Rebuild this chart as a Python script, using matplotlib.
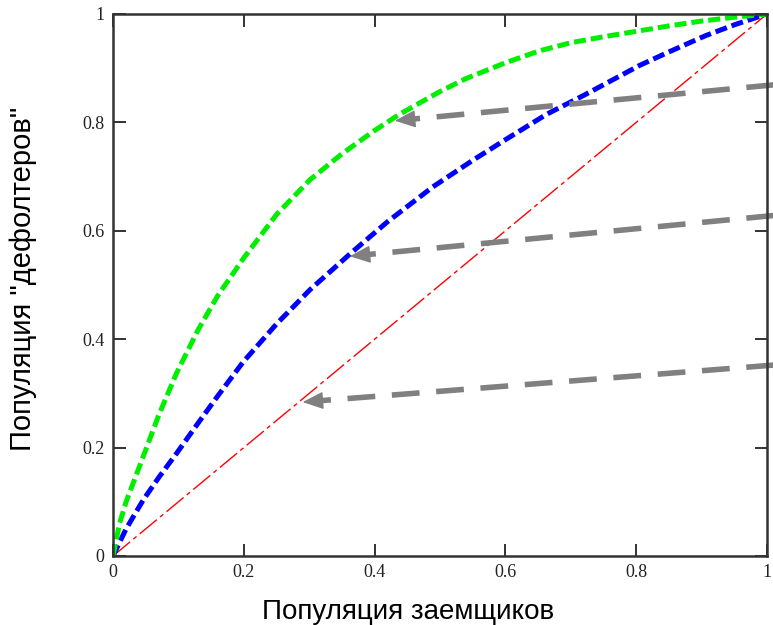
import matplotlib.pyplot as plt
import numpy as np

# points
x_green = [0, 0.01, 0.02, 0.046, 0.07, 0.097, 0.13, 0.16, 0.2, 0.25, 0.301, 0.35, 0.4, 0.438,
           0.5, 0.54, 0.6, 0.652, 0.7, 0.75, 0.805, 0.85, 0.9, 0.95, 1.0]
y_green = [0, 0.06, 0.10, 0.183, 0.26, 0.337, 0.417, 0.48, 0.55, 0.63, 0.694, 0.742, 0.785, 0.815,
           0.857, 0.881, 0.91, 0.932, 0.947, 0.958, 0.969, 0.978, 0.987, 0.994, 1.0]

x_blue = [0, 0.02, 0.046, 0.07, 0.097, 0.13, 0.16, 0.199, 0.25, 0.301, 0.362, 0.42, 0.489,
          0.55, 0.6, 0.663, 0.72, 0.805, 0.85, 0.906, 0.95, 1.0]
y_blue = [0, 0.05, 0.103, 0.145, 0.189, 0.245, 0.295, 0.358, 0.428, 0.491, 0.557, 0.617, 0.681,
          0.73, 0.768, 0.815, 0.85, 0.905, 0.93, 0.96, 0.98, 1.0]

x_red = [0, 1]
y_red = [0, 1]

# arrows: tail (off the right edge) -> head
arrow_tail_x = [1.06, 1.06, 1.06]
arrow_tail_y = [0.875, 0.634, 0.357]
arrow_head_x = [0.431, 0.362, 0.29]
arrow_head_y = [0.803, 0.553, 0.284]

ticks = [0, 0.2, 0.4, 0.6, 0.8, 1]
tick_labels = ['0', '0.2', '0.4', '0.6', '0.8', '1']

fig = plt.figure(figsize=(7.73, 6.25), dpi=100)
ax = fig.add_axes([0.1462, 0.1104, 0.846, 0.8672])

ax.plot(x_red, y_red, color='red', lw=1.0, dashes=(16, 3, 3, 3))
ax.plot(x_blue, y_blue, color='blue', lw=3.6, dashes=(2.4, 1.0))
ax.plot(x_green, y_green, color='#00ee00', lw=3.6, dashes=(2.4, 1.0))

for tx, ty, hx, hy in zip(arrow_tail_x, arrow_tail_y, arrow_head_x, arrow_head_y):
    dx, dy = tx - hx, ty - hy
    n = np.hypot(dx, dy)
    bx, by = hx + 0.025 * dx / n, hy + 0.025 * dy / n
    ax.plot([tx, bx], [ty, by], color='#808080', lw=4.0, dashes=(5, 3),
            solid_capstyle='butt', dash_capstyle='butt', clip_on=False)
    ax.annotate('', xy=(hx, hy), xytext=(bx + 0.001 * dx / n, by + 0.001 * dy / n),
                annotation_clip=False,
                arrowprops=dict(arrowstyle='-|>,head_length=1.3,head_width=0.55',
                                color='#808080', lw=1, shrinkA=0, shrinkB=0))

ax.set_xlim(0, 1)
ax.set_ylim(0, 1)
ax.set_xticks(ticks)
ax.set_yticks(ticks)
ax.set_xticklabels(tick_labels, family='Liberation Serif', fontsize=13)
ax.set_yticklabels(tick_labels, family='Liberation Serif', fontsize=13)
ax.tick_params(direction='in', length=9, width=1.3, top=True, right=True, pad=6, colors='#222222')
for s in ax.spines.values():
    s.set_linewidth(1.8)
    s.set_color('#333333')

ax.set_xlabel('Популяция заемщиков', family='Liberation Sans', fontsize=20, va='center')
ax.xaxis.set_label_coords(0.452, -0.103)
ax.set_ylabel('Популяция "дефолтеров"', family='Liberation Sans', fontsize=21, va='center')
ax.yaxis.set_label_coords(-0.137, 0.511)

fig.savefig('out.png', dpi=100)
